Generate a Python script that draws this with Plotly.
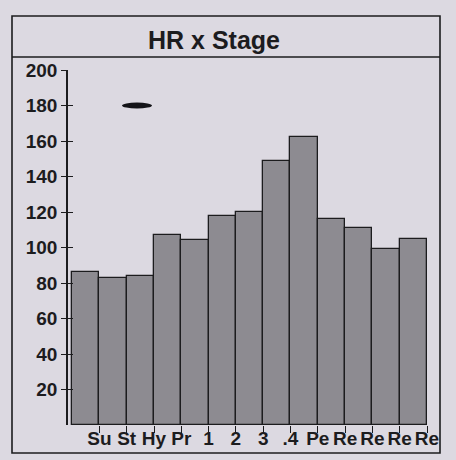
import plotly.graph_objects as go

categories = ["Su", "St", "Hy", "Pr", "1", "2", "3", ".4", "Pe", "Re", "Re", "Re", "Re"]
hr_values = [86, 83, 84, 107, 104, 118, 120, 149, 162, 116, 111, 99, 105]
y_ticks = [20, 40, 60, 80, 100, 120, 140, 160, 180, 200]

W, H = 456, 460
L, R, T, B = 68, 436, 70, 425  # plot area in pixels

def px(x):
    return (x - L) / (R - L)

def py(y):
    return (B - y) / (B - T)

BG = "#dcd9e1"
INK = "#1c1c1e"
FONT = "Liberation Sans, Arial, sans-serif"

positions = list(range(len(categories)))
fig = go.Figure()
fig.add_trace(go.Bar(
    x=positions, y=hr_values, width=1.0,
    marker=dict(color="#8d8b91", line=dict(color=INK, width=1.3)),
    hoverinfo="skip",
))
# invisible trace for the second (crossing ticks) y axis
fig.add_trace(go.Scatter(x=[positions[0]], y=[0], yaxis="y2", mode="markers",
                         marker=dict(opacity=0), showlegend=False, hoverinfo="skip"))

tickpos = [p + 0.5 for p in positions]
tickmarks = [p + 0.501 for p in positions]
fig.update_layout(
    width=W, height=H,
    margin=dict(l=L, r=W - R, t=T, b=H - B, autoexpand=False),
    paper_bgcolor=BG, plot_bgcolor=BG,
    showlegend=False, bargap=0,
    font=dict(family=FONT, color=INK, size=17),
    xaxis=dict(range=[-0.65, 12.83], tickvals=tickpos, automargin=False,
               ticktext=["<b>%s</b>" % c for c in categories],
               ticks="",
               minor=dict(tickvals=tickmarks, ticks="outside", ticklen=7,
                          tickwidth=1.2, tickcolor=INK, showgrid=False),
               showgrid=False, zeroline=False, showline=False,
               tickfont=dict(size=19)),
    yaxis=dict(range=[0, 200], tickvals=y_ticks, automargin=False,
               ticktext=["<b>%d</b>" % v for v in y_ticks],
               ticks="outside", ticklen=5,
               tickwidth=1.3, tickcolor=INK, showline=True, linecolor=INK, linewidth=1.5,
               showgrid=False, zeroline=False, tickfont=dict(size=19)),
    yaxis2=dict(range=[0, 200], tickvals=y_ticks, ticks="inside", ticklen=5,
                tickwidth=1.3, tickcolor=INK, overlaying="y", side="left", automargin=False,
                showticklabels=False, showgrid=False, zeroline=False, showline=False),
    title=dict(text="<b>HR x Stage</b>", x=px(214), xref="paper", xanchor="center",
               y=1 - 40 / H, yanchor="middle", font=dict(size=25, color=INK)),
    shapes=[
        # outer frame
        dict(type="rect", xref="paper", yref="paper", x0=px(12), x1=px(440),
             y0=py(453), y1=py(16), line=dict(color=INK, width=1.6)),
        # line under title
        dict(type="line", xref="paper", yref="paper", x0=px(12), x1=px(440),
             y0=py(57), y1=py(57), line=dict(color=INK, width=1.6)),
        # ink blot
        dict(type="circle", xref="paper", yref="paper", x0=px(122), x1=px(152),
             y0=py(108.5), y1=py(102.5), fillcolor="#141418", line=dict(width=0)),
    ],
)
fig.write_html(
    "out.html",
    config={"displayModeBar": False},
    post_script="document.body.style.margin='0';document.body.style.background='%s';" % BG,
)
